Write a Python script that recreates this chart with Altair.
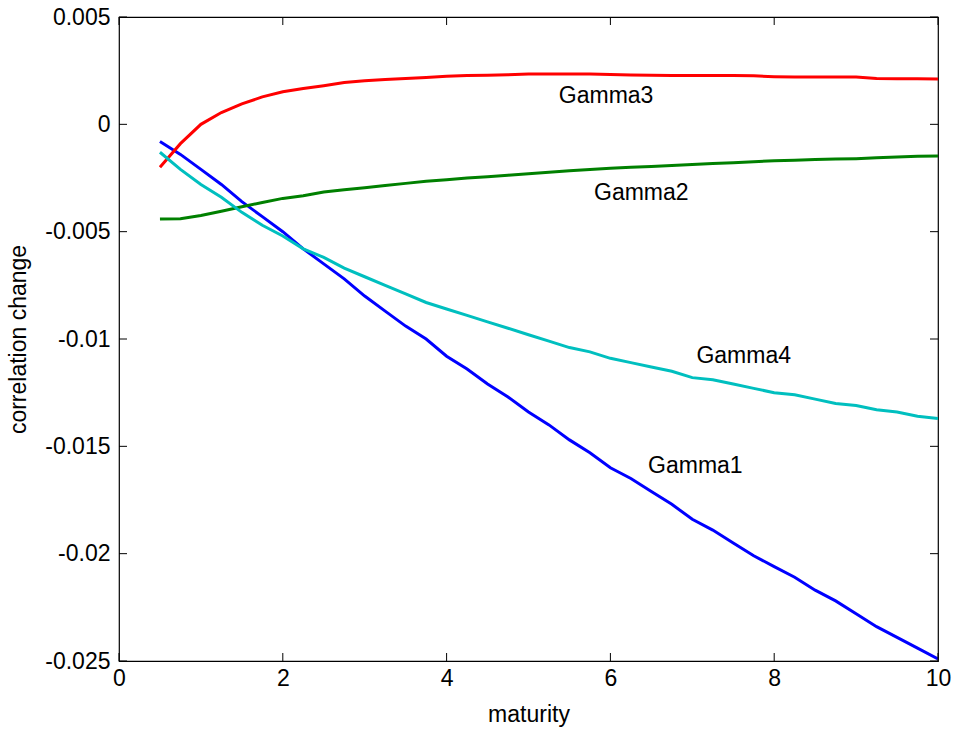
import altair as alt
import pandas as pd

maturity = [0.5, 0.75, 1.0, 1.25, 1.5, 1.75, 2.0, 2.25, 2.5, 2.75,
            3.0, 3.25, 3.5, 3.75, 4.0, 4.25, 4.5, 4.75, 5.0, 5.25,
            5.5, 5.75, 6.0, 6.25, 6.5, 6.75, 7.0, 7.25, 7.5, 7.75,
            8.0, 8.25, 8.5, 8.75, 9.0, 9.25, 9.5, 9.75, 10.0]

gamma1 = [-0.0008, -0.0014, -0.0021, -0.0028, -0.0036, -0.0043, -0.0050, -0.0058, -0.0065, -0.0072,
          -0.0080, -0.0087, -0.0094, -0.0100, -0.0108, -0.0114, -0.0121, -0.0127, -0.0134, -0.0140,
          -0.0147, -0.0153, -0.0160, -0.0165, -0.0171, -0.0177, -0.0184, -0.0189, -0.0195, -0.0201,
          -0.0206, -0.0211, -0.0217, -0.0222, -0.0228, -0.0234, -0.0239, -0.0244, -0.0249]

gamma2 = [-0.00441, -0.0044, -0.00425, -0.00405, -0.00384, -0.00364, -0.00345, -0.00333, -0.00315, -0.00305,
          -0.00295, -0.00285, -0.00275, -0.00265, -0.00258, -0.0025, -0.00244, -0.00237, -0.0023, -0.00223,
          -0.00216, -0.0021, -0.00205, -0.002, -0.00196, -0.00192, -0.00187, -0.00183, -0.00179, -0.00174,
          -0.0017, -0.00167, -0.00164, -0.00162, -0.0016, -0.00156, -0.00152, -0.00149, -0.00147]

gamma3 = [-0.0020, -0.0009, 0.0000, 0.00055, 0.00095, 0.00128, 0.00152, 0.00167, 0.0018, 0.00195,
          0.00203, 0.00209, 0.00214, 0.00218, 0.00224, 0.00227, 0.00229, 0.00231, 0.00234, 0.00234,
          0.00234, 0.00234, 0.00232, 0.0023, 0.00229, 0.00228, 0.00228, 0.00228, 0.00228, 0.00226,
          0.00222, 0.0022, 0.0022, 0.0022, 0.0022, 0.00214, 0.00212, 0.00212, 0.00211]

gamma4 = [-0.0013, -0.0021, -0.0028, -0.0034, -0.0041, -0.0047, -0.0052, -0.0058, -0.0062, -0.0067,
          -0.0071, -0.0075, -0.0079, -0.0083, -0.0086, -0.0089, -0.0092, -0.0095, -0.0098, -0.0101,
          -0.0104, -0.0106, -0.0109, -0.0111, -0.0113, -0.0115, -0.0118, -0.0119, -0.0121, -0.0123,
          -0.0125, -0.0126, -0.0128, -0.0130, -0.0131, -0.0133, -0.0134, -0.0136, -0.0137]

series_names = ["Gamma1", "Gamma2", "Gamma3", "Gamma4"]
series_colors = ["#0000FF", "#008000", "#FF0000", "#00BFBF"]

label_names = ["Gamma3", "Gamma2", "Gamma4", "Gamma1"]
label_x = [5.37, 5.8, 7.05, 6.46]
label_y = [0.00132, -0.0032, -0.0108, -0.0159]

x_ticks = [0, 2, 4, 6, 8, 10]
y_ticks = [-0.025, -0.02, -0.015, -0.01, -0.005, 0.0, 0.005]

W, H = 819, 644
FONT = "Liberation Sans"
FS = 23
TICK = 8

rows = []
for name, vals in zip(series_names, [gamma1, gamma2, gamma3, gamma4]):
    for m, v in zip(maturity, vals):
        rows.append({"maturity": m, "value": v, "series": name})
df = pd.DataFrame(rows)

labels_df = pd.DataFrame({"name": label_names, "maturity": label_x, "value": label_y})
xt_df = pd.DataFrame({"maturity": x_ticks})
yt_df = pd.DataFrame({"value": y_ticks})

xscale = alt.Scale(domain=[0, 10], nice=False, zero=False)
yscale = alt.Scale(domain=[-0.025, 0.005], nice=False, zero=False)

minus_fix = "replace(format(datum.value, '~g'), '\u2212', '-')"

x_axis = alt.Axis(title="maturity", values=x_ticks, ticks=False, domain=False, grid=False,
                  labelFont=FONT, labelFontSize=FS, labelColor="black", labelPadding=6,
                  labelFlush=False,
                  titleFont=FONT, titleFontSize=FS, titleFontWeight="normal",
                  titleColor="black", titlePadding=13)
y_axis = alt.Axis(title="correlation change", values=y_ticks, ticks=False, domain=False,
                  grid=False, labelExpr=minus_fix,
                  labelFont=FONT, labelFontSize=FS, labelColor="black", labelPadding=9,
                  labelFlush=False,
                  titleFont=FONT, titleFontSize=FS, titleFontWeight="normal",
                  titleColor="black", titlePadding=14)

X = alt.X("maturity:Q", scale=xscale, axis=x_axis, title="maturity")
Y = alt.Y("value:Q", scale=yscale, axis=y_axis, title="correlation change")

lines = alt.Chart(df).mark_line(strokeWidth=3, clip=True).encode(
    x=X, y=Y,
    color=alt.Color("series:N", scale=alt.Scale(domain=series_names, range=series_colors),
                    legend=None),
    detail="series:N",
)

texts = alt.Chart(labels_df).mark_text(align="left", baseline="middle", font=FONT,
                                        fontSize=FS, color="black").encode(
    x=X, y=Y, text="name:N",
)

tick_style = dict(color="black", strokeWidth=1)
bottom_ticks = alt.Chart(xt_df).mark_rule(**tick_style).encode(
    x=X, y=alt.value(H), y2=alt.value(H - TICK))
top_ticks = alt.Chart(xt_df).mark_rule(**tick_style).encode(
    x=X, y=alt.value(0), y2=alt.value(TICK))
left_ticks = alt.Chart(yt_df).mark_rule(**tick_style).encode(
    y=Y, x=alt.value(0), x2=alt.value(TICK))
right_ticks = alt.Chart(yt_df).mark_rule(**tick_style).encode(
    y=Y, x=alt.value(W), x2=alt.value(W - TICK))

chart = alt.layer(lines, texts, bottom_ticks, top_ticks, left_ticks, right_ticks).properties(
    width=W, height=H,
    autosize=alt.AutoSizeParams(type="none"),
    padding={"left": 119, "top": 17, "right": 15, "bottom": 71},
    background="white",
).configure_view(stroke="black", strokeWidth=1.2)

chart.save("out.html", embed_options={"renderer": "svg", "actions": False})
